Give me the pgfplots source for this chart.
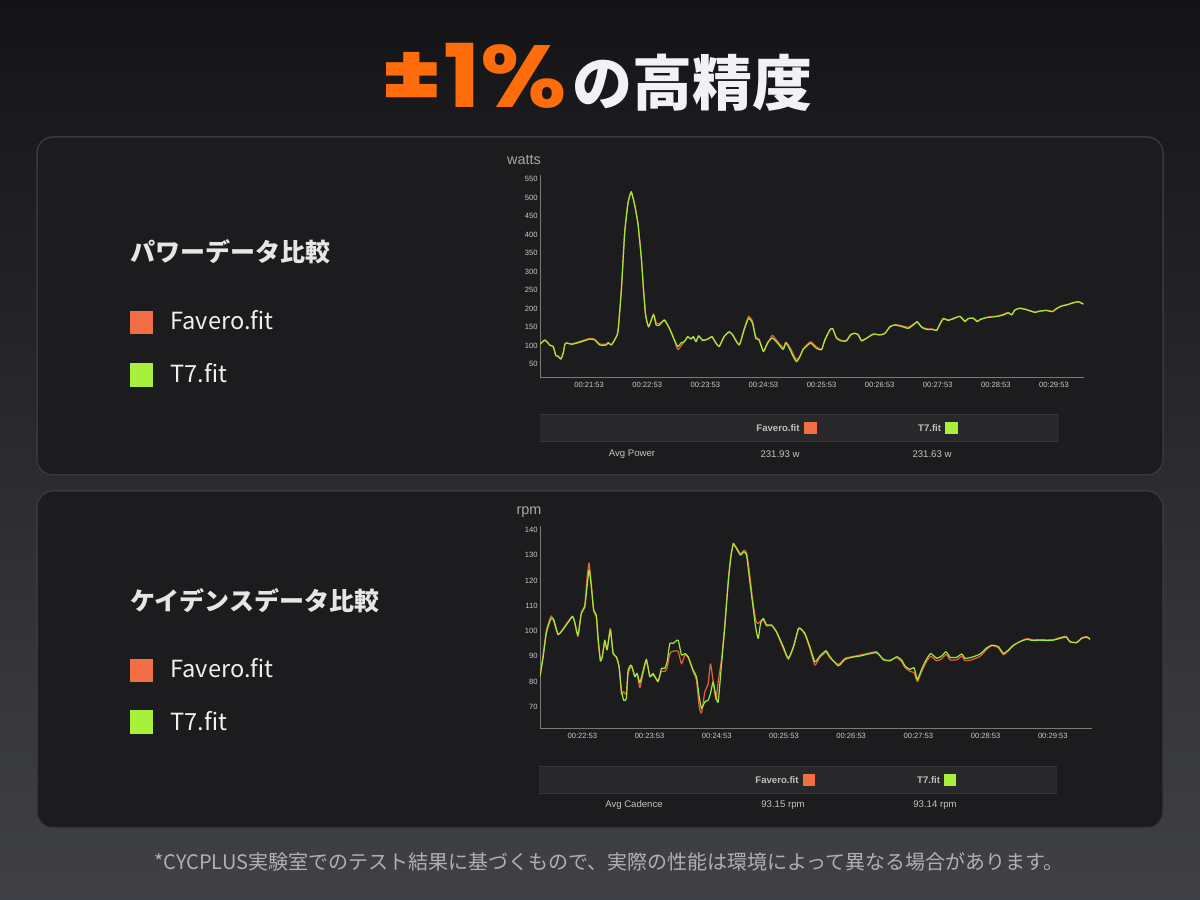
\documentclass[border=0pt]{standalone}
\usepackage{graphicx}
\usepackage{pgfplots}
\pgfplotsset{compat=1.18}
\usepackage{fontspec}
\setmainfont{Liberation Sans}
\newfontfamily\cjk{Noto Sans CJK JP}
\newfontfamily\pop{Poppins}
\definecolor{bgtop}{HTML}{141417}
\definecolor{bgmid}{HTML}{1F1F23}
\definecolor{bgbot}{HTML}{404146}
\definecolor{panel}{HTML}{1C1C1E}
\definecolor{panelborder}{HTML}{38383B}
\definecolor{headc}{HTML}{E6E6E6}
\definecolor{legc}{HTML}{F0F0F0}
\definecolor{favsq}{HTML}{F26F46}
\definecolor{favline}{HTML}{E8603C}
\definecolor{t7sq}{HTML}{A8F03C}
\definecolor{t7line}{HTML}{A2EA38}
\definecolor{tickc}{HTML}{C8C8C8}
\definecolor{axisc}{HTML}{7A7A7A}
\definecolor{labc}{HTML}{A8A8A8}
\definecolor{bandc}{HTML}{28282A}
\definecolor{bandline}{HTML}{36363A}
\definecolor{tabc}{HTML}{C4C4C4}
\definecolor{footc}{HTML}{B0B0B4}
\definecolor{titleor}{HTML}{FF6C0C}
\definecolor{titlew}{HTML}{F2F2F4}

\pgfplotstableread{
t v
-50.7 104
-45.6 115
-40.5 102
-37 98
-34.3 73
-31.9 71
-29.1 64
-26.7 80
-25 105
-23.3 108
-18.2 104
-11.3 108
0.7 118
5.8 116
11 102
17.8 102
19.5 108
23 102
26.4 116
29.8 138
33.3 250
36.7 403
40.1 484
43.5 516
47 480
50.4 430
53.8 340
56.2 250
58.3 183
61.4 152
66.5 183
69.2 156
72.7 156
77.8 170
83 147
86.4 125
91.5 98
95 108
98.4 111
101.8 125
105.2 118
107.6 125
110.4 111
113.1 127
117.2 114
122.4 118
126.8 125
130.9 107
134.4 98
139.5 125
144.7 138
148.1 129
155 102
160.1 143
164.6 174
168.7 161
172.1 120
175.5 116
180 84
184.1 108
189.2 121
194.4 108
200.4 90
203.2 108
207.3 90
210.7 71
214.2 57
217.6 70
221.1 90
228.6 107
234.8 93
240 89
243.4 116
248.6 143
251.4 147
255.5 120
260.7 113
265.8 113
270 129
274.4 134
277.9 129
281.3 113
286.5 120
293.4 132
300.3 129
305.4 133
310.6 152
315.8 156
322.6 152
329.5 147
334.7 156
338.8 165
343.3 150
348.5 144
354.7 144
358.8 141
361.6 156
365.7 174
370.9 168
376 174
382.9 179
388.1 165
391.5 174
396.7 174
400.8 165
403.6 171
410.5 176
420.8 179
427.7 183
432.8 189
436.3 183
439.7 197
444.9 201
451.8 197
460.4 190
465.5 194
472.4 195
478.6 192
482.8 201
487.9 207
493.1 210
499.3 216
505.2 219
510.3 213
}\powerTseven

\pgfplotstableread{
t v
-50.7 104
-45.6 116
-40.5 101
-37 97
-34.3 74
-31.9 72
-29.1 65
-26.7 82
-25 104
-23.3 107
-18.2 105
-11.3 110
0.7 120
5.8 117
11 105
17.8 104
19.5 109
23 103
26.4 117
29.8 139
33.3 252
36.7 405
40.1 486
43.5 514
47 482
50.4 431
53.8 342
56.2 252
58.3 186
61.4 150
66.5 186
69.2 162
72.7 160
77.8 168
83 146
86.4 128
91.5 90
95 100
98.4 112
101.8 123
105.2 119
107.6 123
110.4 113
113.1 125
117.2 116
122.4 117
126.8 124
130.9 108
134.4 99
139.5 126
144.7 136
148.1 131
155 103
160.1 146
164.6 179
168.7 166
172.1 124
175.5 117
180 86
184.1 105
189.2 128
194.4 112
200.4 95
203.2 110
207.3 96
210.7 78
214.2 62
217.6 72
221.1 92
228.6 111
234.8 97
240 91
243.4 114
248.6 142
251.4 146
255.5 122
260.7 114
265.8 115
270 131
274.4 133
277.9 131
281.3 115
286.5 121
293.4 130
300.3 130
305.4 134
310.6 150
315.8 157
322.6 154
329.5 150
334.7 158
338.8 163
343.3 151
348.5 146
354.7 145
358.8 142
361.6 154
365.7 172
370.9 170
376 172
382.9 180
388.1 167
391.5 173
396.7 175
400.8 167
403.6 170
410.5 177
420.8 180
427.7 185
432.8 190
436.3 184
439.7 196
444.9 202
451.8 198
460.4 191
465.5 193
472.4 196
478.6 193
482.8 200
487.9 208
493.1 211
499.3 215
505.2 218
510.3 212
}\powerFav

\pgfplotstableread{
t v
-37.8 82
-35.2 89
-32.2 99
-29.2 103.7
-27.7 105
-25.6 104.6
-21.8 98.8
-18.8 99.7
-14.3 102.4
-8.9 105.7
-6.9 103.7
-3.9 98.4
-0.9 107
2.1 109.4
4.2 117.5
6.0 124.2
8.0 117.5
10.1 108.3
12.5 106.3
14.0 97.7
16.1 88.5
17.9 89.8
20.0 96.4
22.1 92.5
25.0 100.4
27.4 91.1
30.4 89.8
32.8 85.8
34.9 76.6
36.9 72.6
39.3 73.3
40.8 84.5
43.8 86.5
46.8 81.9
48.9 83.2
51.3 79.5
53.6 83.2
57.2 88.8
60.2 81.9
63.2 83.2
67.6 79.9
70.6 85.2
73.6 85.2
75.7 87.8
78.1 95.1
81.0 95.1
85.5 96.4
88.5 90.5
91.5 91.1
94.5 89.8
98.9 84.5
101.9 81.9
104.3 74
106.4 69.3
109.4 72
112.3 72.6
114.4 75.3
116.8 79.9
119.2 74
121.3 72
124.3 87.2
127.2 101.7
130.2 118.9
132.3 128.1
134.7 134.7
138.3 132.1
141.2 130.1
144.2 131.4
146.6 130.1
149.0 121.5
152.0 110.9
154.9 101
157.0 97.1
159.1 103
161.5 105
164.5 102.4
168.9 102.4
173.4 99.7
179.4 93.8
183.9 89.2
188.5 94
192.8 101
194.8 101
198.7 99.1
203.1 93.8
207.6 87.8
212.1 90.1
217.5 92.2
221.1 89.8
228.5 86.2
234.5 88.8
240.5 89.6
247.9 90.1
255.4 90.9
262.8 91.4
268.8 88.8
274.7 88.2
280.7 89.8
285.1 88.5
288.1 86.1
292.6 84.8
296.1 85.5
299.1 80.8
303 85
306.8 88.5
311 91.1
316.4 89.2
320.8 90.1
324.7 91.8
328.3 89.6
334.2 89.6
338.7 90.9
341.7 89.2
347.6 89.6
355.1 90.9
360.4 93.1
365.5 94.4
371.4 93.8
375.9 91.1
380.4 92.5
384.8 94.4
390.8 95.8
396.7 96.7
402.7 96.2
408.6 96.4
414.6 96.2
420.5 96.4
426.5 97.1
431.9 97.6
435.4 95.8
441.4 95.4
445.8 97.1
450.3 97.6
453.3 96.7
}\cadTseven

\pgfplotstableread{
t v
-37.8 82
-35.2 90
-32.2 100
-29.2 104.5
-27.7 106
-25.6 104
-21.8 98.5
-18.8 99.9
-14.3 102.8
-8.9 105.9
-6.9 103.5
-3.9 97.8
-0.9 107.5
2.1 110
4.2 121
6.0 127
8.0 119
10.1 108
12.5 105.5
14.0 96.5
16.1 88
17.9 90.5
20.0 95.5
22.1 93
25.0 101
27.4 91.5
30.4 89.5
32.8 86
34.9 75
36.9 76
39.3 75
40.8 83
43.8 86
46.8 82.5
48.9 83
51.3 77.5
53.6 82
57.2 88
60.2 82.5
63.2 82.5
67.6 80.5
70.6 84
73.6 84
75.7 85.5
78.1 91
81.0 92
85.5 92
88.5 87
91.5 90.5
94.5 89.5
98.9 84
101.9 80.5
104.3 70
106.4 67.5
109.4 76
112.3 79
114.4 87
116.8 80
119.2 73
121.3 80
124.3 89
127.2 103
130.2 120
132.3 129
134.7 134
138.3 132.6
141.2 130.5
144.2 132
146.6 131
149.0 124
152.0 112.5
154.9 104
157.0 103
159.1 104
161.5 104.5
164.5 102
168.9 102.2
173.4 99.4
179.4 93
183.9 88.8
188.5 93.5
192.8 100.5
194.8 100.8
198.7 98.6
203.1 93
207.6 86.5
212.1 89.6
217.5 91.6
221.1 89.3
228.5 86.8
234.5 89.2
240.5 89.8
247.9 90.5
255.4 91.2
262.8 91.8
268.8 88.5
274.7 88.5
280.7 89.5
285.1 87.8
288.1 85.5
292.6 84
296.1 83.5
299.1 80
303 84
306.8 87.5
311 90
316.4 88.2
320.8 89
324.7 90.8
328.3 88.6
334.2 88.6
338.7 90
341.7 88.3
347.6 88.6
355.1 90
360.4 92.5
365.5 94.2
371.4 93.4
375.9 90.6
380.4 92.2
384.8 94.2
390.8 95.9
396.7 97
402.7 96.5
408.6 96.6
414.6 96.5
420.5 96.6
426.5 97.4
431.9 97.9
435.4 95.6
441.4 95.6
445.8 97.3
450.3 97.8
453.3 96.9
}\cadFav

\pgfplotsset{
  chartstyle/.style={
    scale only axis, anchor=south west,
    axis lines=left,
    axis line style={-, draw=axisc, line width=0.5pt},
    major tick length=0pt,
    ticklabel style={font=\fontsize{3.8}{4}\selectfont, text=tickc},
    xticklabel style={inner sep=0pt, yshift=-2pt},
    yticklabel style={inner sep=0pt, xshift=-1pt},
    /pgf/number format/assume math mode=true,
    no markers,
    enlargelimits=false,
  },
  favst/.style={favline, line width=0.6pt, smooth, tension=0.3, line join=round},
  t7st/.style={t7line, line width=0.6pt, smooth, tension=0.3, line join=round},
}

\begin{document}
\begin{tikzpicture}
\begin{scope}[x=0.5pt,y=0.5pt]
  \shade[top color=bgtop, middle color=bgmid, bottom color=bgbot] (0,0) rectangle (1200,900);
  \useasboundingbox (0,0) rectangle (1200,900);
  % title
  \node[anchor=base, inner sep=0pt, text=titleor, font=\pop\bfseries\fontsize{44}{44}\selectfont] at (474,792) {\scalebox{1.13}[1]{±1\%}};
  \node[anchor=base west, inner sep=0pt, text=titlew, font=\cjk\bfseries\fontsize{30}{30}\selectfont] at (572,794) {の高精度};
  % panels
  \draw[panelborder, fill=panel, line width=0.75pt, rounded corners=8pt] (37,763) rectangle (1163,425);
  \draw[panelborder, fill=panel, line width=0.75pt, rounded corners=8pt] (37,409) rectangle (1163,72);
  % headings
  \node[anchor=base west, inner sep=0pt, text=headc, font=\cjk\bfseries\fontsize{12.5}{12.5}\selectfont] at (130,638) {パワーデータ比較};
  \node[anchor=base west, inner sep=0pt, text=headc, font=\cjk\bfseries\fontsize{12.5}{12.5}\selectfont] at (130,289) {ケイデンスデータ比較};
  % legends
  \fill[favsq] (130,589) rectangle (153,566);
  \fill[t7sq] (130,537) rectangle (153,513);
  \node[anchor=base west, inner sep=0pt, text=legc, font=\cjk\fontsize{11.8}{11.8}\selectfont] at (170,570) {Favero.fit};
  \node[anchor=base west, inner sep=0pt, text=legc, font=\cjk\fontsize{11.8}{11.8}\selectfont] at (170,517) {T7.fit};
  \fill[favsq] (130,241) rectangle (153,218);
  \fill[t7sq] (130,190) rectangle (153,166);
  \node[anchor=base west, inner sep=0pt, text=legc, font=\cjk\fontsize{11.8}{11.8}\selectfont] at (170,222) {Favero.fit};
  \node[anchor=base west, inner sep=0pt, text=legc, font=\cjk\fontsize{11.8}{11.8}\selectfont] at (170,169) {T7.fit};
  % unit labels
  \node[text=labc, inner sep=0pt, font=\fontsize{7.2}{7.2}\selectfont] at (524,740) {watts};
  \node[text=labc, inner sep=0pt, font=\fontsize{7.2}{7.2}\selectfont] at (529,388) {rpm};
  % top table
  \fill[bandc] (540,485.4) rectangle (1058.6,458.8);
  \draw[bandline, line width=0.5pt] (540,485.4) -- (1058.6,485.4);
  \draw[bandline, line width=0.5pt] (540,458.8) -- (1058.6,458.8);
  \node[anchor=east, inner sep=0pt, text=tabc!110, font=\bfseries\fontsize{4.8}{4.8}\selectfont] at (800,471.6) {Favero.fit};
  \fill[favsq] (804.4,478) rectangle (816.5,466);
  \node[anchor=east, inner sep=0pt, text=tabc!110, font=\bfseries\fontsize{4.8}{4.8}\selectfont] at (941.5,471.6) {T7.fit};
  \fill[t7sq] (945,478) rectangle (957.7,466);
  \node[inner sep=0pt, text=tabc, font=\fontsize{4.8}{4.8}\selectfont] at (632,446) {Avg Power};
  \node[inner sep=0pt, text=tabc, font=\fontsize{4.8}{4.8}\selectfont] at (780,446) {231.93 w};
  \node[inner sep=0pt, text=tabc, font=\fontsize{4.8}{4.8}\selectfont] at (932,446) {231.63 w};
  % bottom table
  \fill[bandc] (538.6,133.8) rectangle (1056.9,106.3);
  \draw[bandline, line width=0.5pt] (538.6,133.8) -- (1056.9,133.8);
  \draw[bandline, line width=0.5pt] (538.6,106.3) -- (1056.9,106.3);
  \node[anchor=east, inner sep=0pt, text=tabc!110, font=\bfseries\fontsize{4.8}{4.8}\selectfont] at (799,120) {Favero.fit};
  \fill[favsq] (802.7,125.5) rectangle (815,114.2);
  \node[anchor=east, inner sep=0pt, text=tabc!110, font=\bfseries\fontsize{4.8}{4.8}\selectfont] at (940.5,120) {T7.fit};
  \fill[t7sq] (944,125.5) rectangle (956,114.2);
  \node[inner sep=0pt, text=tabc, font=\fontsize{4.8}{4.8}\selectfont] at (634,95) {Avg Cadence};
  \node[inner sep=0pt, text=tabc, font=\fontsize{4.8}{4.8}\selectfont] at (783,95) {93.15 rpm};
  \node[inner sep=0pt, text=tabc, font=\fontsize{4.8}{4.8}\selectfont] at (935,95) {93.14 rpm};
  % footnote
  \node[inner sep=0pt, text=footc, font=\cjk\fontsize{10}{10}\selectfont] at (609,38) {*CYCPLUS実験室でのテスト結果に基づくもので、実際の性能は環境によって異なる場合があります。};
\end{scope}

\begin{axis}[chartstyle,
  at={(270pt,261pt)}, width=272pt, height=101.5pt,
  xmin=-50.7, xmax=511, ymin=13, ymax=561,
  xtick={0,60,...,480},
  xticklabels={00:21:53,00:22:53,00:23:53,00:24:53,00:25:53,00:26:53,00:27:53,00:28:53,00:29:53},
  ytick={50,100,...,550},
]
  \addplot[favst] table[x=t,y=v] {\powerFav};
  \addplot[t7st] table[x=t,y=v] {\powerTseven};
\end{axis}

\begin{axis}[chartstyle,
  at={(270pt,85.5pt)}, width=276pt, height=101.5pt,
  xmin=-37.8, xmax=455, ymin=61.2, ymax=141.6,
  xtick={0,60,...,420},
  xticklabels={00:22:53,00:23:53,00:24:53,00:25:53,00:26:53,00:27:53,00:28:53,00:29:53},
  ytick={70,80,...,140},
]
  \addplot[favst] table[x=t,y=v] {\cadFav};
  \addplot[t7st] table[x=t,y=v] {\cadTseven};
\end{axis}
\end{tikzpicture}
\end{document}
